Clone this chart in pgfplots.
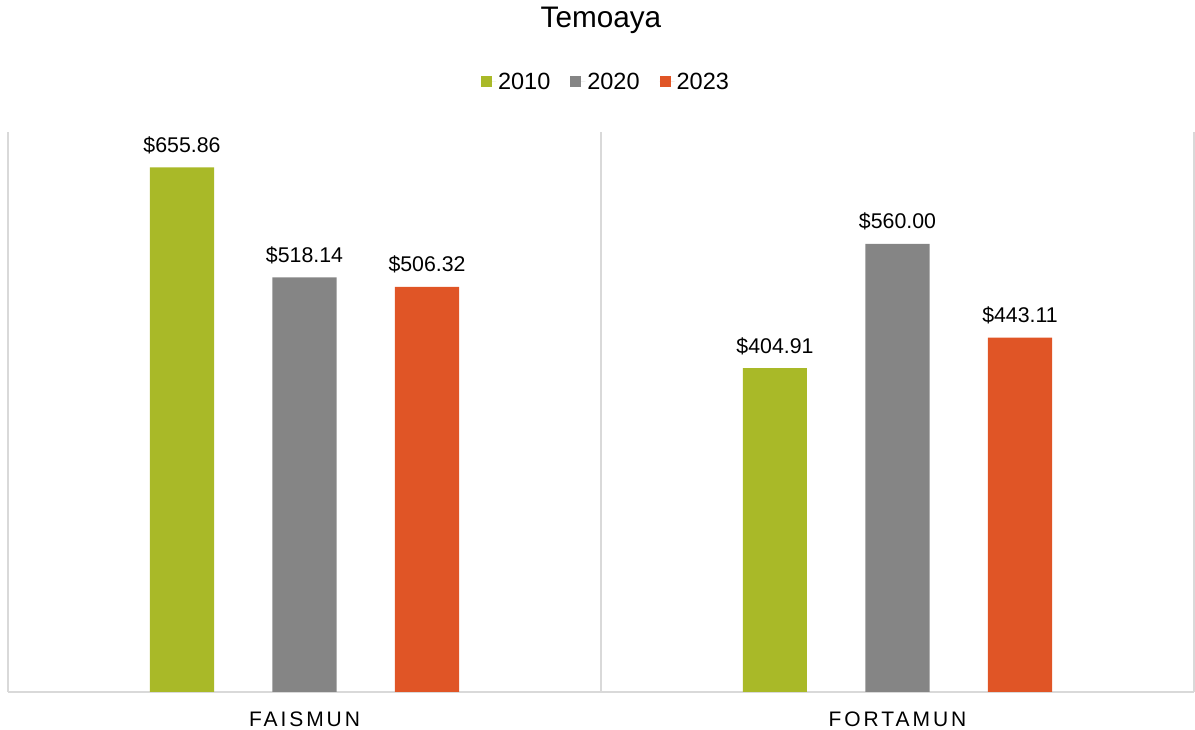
\documentclass[border=0pt]{standalone}
\usepackage{fontspec}
\setmainfont{Liberation Sans}
\usepackage{pgfplots}
\pgfplotsset{compat=1.18}
\usetikzlibrary{calc}
\definecolor{c2010}{RGB}{169,185,40}
\definecolor{c2020}{RGB}{133,133,133}
\definecolor{c2023}{RGB}{224,85,38}
\definecolor{gridc}{RGB}{217,217,217}

\begin{document}
\begin{tikzpicture}
\begin{axis}[
  scale only axis, width=1186pt, height=560pt,
  xmin=-0.5, xmax=1.5, ymin=0, ymax=700,
  axis x line=bottom, axis y line=none,
  x axis line style={-, draw=gridc, line width=2pt},
  xtick={0,1}, xticklabels={FAISMUN,FORTAMUN},
  minor xtick={-0.5,0.5,1.5}, xminorgrids=true,
  minor grid style={draw=gridc, line width=2pt},
  major tick length=0pt, minor tick length=0pt,
  xticklabel style={font=\fontsize{21}{25}\selectfont\addfontfeature{LetterSpace=14},
    anchor=base, yshift=-35pt},
  title={Temoaya},
  title style={font=\fontsize{29.7}{34}\selectfont, at={(0.5,1)}, anchor=center, yshift=106pt},
  legend style={at={(0.5,1)}, anchor=center, yshift=50pt, xshift=5pt, draw=none,
    font=\fontsize{23.5}{27}\selectfont,
    /tikz/every even column/.append style={column sep=18pt}},
  legend columns=-1,
  legend image code/.code={\path (0pt,0pt) -- (15pt,0pt);
    \fill[#1] (0pt,-5.5pt) rectangle (11pt,5.5pt);},
  nodes near coords, point meta=explicit symbolic,
  every node near coord/.append style={font=\fontsize{21.3}{25}\selectfont,
    inner sep=0pt, anchor=base, yshift=15pt, text=black},
]
\coordinate (O) at (rel axis cs:0,0);
% bars placed at category +- 0.2066
\addplot[ybar, bar width=0.108, fill=c2010, draw=none]
  coordinates {(-0.2066,655.86)[\$655.86] (0.7934,404.91)[\$404.91]};
\addplot[ybar, bar width=0.108, fill=c2020, draw=none]
  coordinates {(0,518.14)[\$518.14] (1,560.00)[\$560.00]};
\addplot[ybar, bar width=0.108, fill=c2023, draw=none]
  coordinates {(0.2066,506.32)[\$506.32] (1.2066,443.11)[\$443.11]};
\legend{2010,2020,2023}
\end{axis}
\pgfresetboundingbox
\path[use as bounding box] ($(O)+(-8pt,-38pt)$) rectangle ++(1195pt,730pt);
\end{tikzpicture}
\end{document}
